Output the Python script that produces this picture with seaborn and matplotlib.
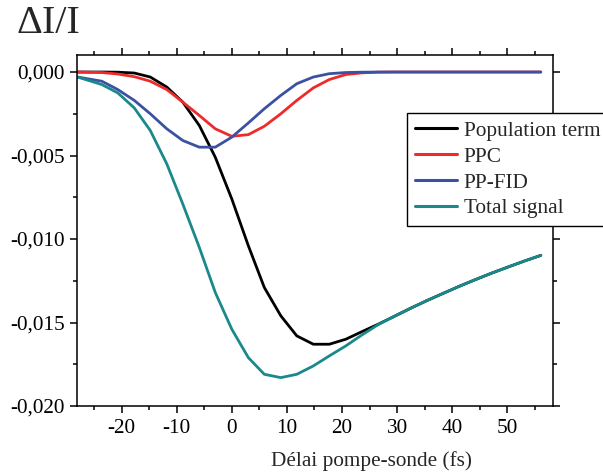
import numpy as np
import pandas as pd
import matplotlib
matplotlib.use("Agg")
import matplotlib.pyplot as plt
import seaborn as sns
from matplotlib.ticker import MultipleLocator, FuncFormatter

# ---- data (delay in fs, signal values in units of 1e-3) ----
delay = [-28, -23.6, -20.7, -17.7, -14.8, -11.8, -8.9, -5.9, -3.0, 0, 3.0, 5.9, 8.9,
         11.8, 14.8, 17.7, 20.7, 23.6, 26.6, 29.5, 32.5, 35.4, 38.4, 41.3, 44.3,
         47.2, 50.2, 53.1, 56.1]
population = [0, 0, -0.01, -0.06, -0.3, -0.9, -1.8, -3.2, -5.1, -7.6, -10.4, -12.9, -14.6,
              -15.8, -16.3, -16.3, -16.0, -15.55, -15.1, -14.63, -14.14, -13.69, -13.25,
              -12.83, -12.42, -12.04, -11.67, -11.32, -10.98]
ppc = [0, -0.03, -0.12, -0.28, -0.55, -1.05, -1.8, -2.6, -3.4, -3.85, -3.75, -3.25, -2.5,
       -1.7, -0.95, -0.45, -0.15, -0.05, -0.01, 0, 0, 0, 0, 0, 0, 0, 0, 0, 0]
ppfid = [-0.3, -0.55, -1.05, -1.7, -2.5, -3.4, -4.1, -4.5, -4.5, -3.9, -3.05, -2.2, -1.4,
         -0.7, -0.3, -0.1, -0.03, -0.01, 0, 0, 0, 0, 0, 0, 0, 0, 0, 0, 0]
total = [-0.3, -0.75, -1.25, -2.15, -3.5, -5.5, -7.9, -10.5, -13.2, -15.4, -17.1, -18.1, -18.3,
         -18.1, -17.6, -17.0, -16.4, -15.75, -15.12, -14.63, -14.14, -13.69, -13.25,
         -12.83, -12.42, -12.04, -11.67, -11.32, -10.98]
series_names = ["Population term", "PPC", "PP-FID", "Total signal"]
series_values = [population, ppc, ppfid, total]
colors = ["#000000", "#ee2b2b", "#3d51a3", "#1a898b"]

frames = []
for name, vals in zip(series_names, series_values):
    frames.append(pd.DataFrame({"delay": delay,
                                "signal": np.array(vals) * 1e-3,
                                "series": name}))
df = pd.concat(frames, ignore_index=True)

sns.set_style("ticks")
plt.rcParams["font.family"] = ["Liberation Serif", "DejaVu Serif"]
plt.rcParams["axes.linewidth"] = 1.1
plt.rcParams["axes.unicode_minus"] = False

FS = 15.3

fig = plt.figure(figsize=(6.03, 4.72), dpi=100)
ax = fig.add_axes([0.1277, 0.1398, 0.917 - 0.1277, 0.8835 - 0.1398])

sns.lineplot(data=df, x="delay", y="signal", hue="series", hue_order=series_names,
             palette=colors, linewidth=2.0, ax=ax, sort=False)

ax.set_xlim(-28.1, 58.3)
ax.set_ylim(-0.0200, 0.00102)

ax.xaxis.set_major_locator(MultipleLocator(10))
ax.xaxis.set_minor_locator(MultipleLocator(5))
ax.yaxis.set_major_locator(MultipleLocator(0.005))
ax.yaxis.set_minor_locator(MultipleLocator(0.0025))


def yfmt(v, pos):
    s = f"{v:.3f}"
    if s == "-0.000":
        s = "0.000"
    return s.replace(".", ",")


ax.yaxis.set_major_formatter(FuncFormatter(yfmt))
ax.tick_params(which="both", direction="out", top=True, right=True,
               labeltop=False, labelright=False, colors="black", labelsize=FS,
               width=1.1)
ax.tick_params(which="major", length=5, pad=4)
ax.tick_params(which="minor", length=3)
for sp in ax.spines.values():
    sp.set_color("black")
    sp.set_visible(True)

ax.set_ylabel("")
ax.set_xlabel("Délai pompe-sonde (fs)", fontsize=FS)
ax.xaxis.set_label_coords(0.618, -0.128)

fig.text(0.028, 0.99, "ΔI/I", fontsize=29, ha="left", va="top")

leg = ax.legend(loc="upper left", bbox_to_anchor=(0.693, 0.835), fontsize=FS,
                frameon=True, fancybox=False, edgecolor="black", framealpha=1,
                handlelength=2.0, handletextpad=0.3, labelspacing=0.28,
                borderpad=0.38, borderaxespad=0)
leg.get_frame().set_linewidth(1.0)
for line in leg.get_lines():
    line.set_linewidth(2.2)

fig.savefig("out.png", dpi=100)
